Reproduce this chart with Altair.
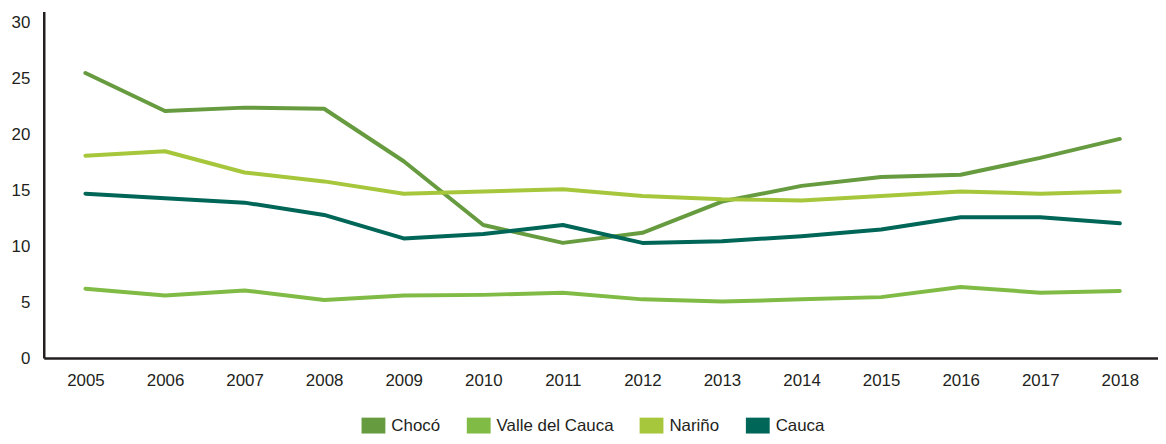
import altair as alt
import pandas as pd

years = list(range(2005, 2019))
series_names = ["Chocó", "Valle del Cauca", "Nariño", "Cauca"]
choco = [25.5, 22.1, 22.4, 22.3, 17.6, 11.9, 10.3, 11.2, 14.0, 15.4, 16.2, 16.4, 17.9, 19.6]
valle = [6.2, 5.6, 6.05, 5.2, 5.6, 5.65, 5.85, 5.25, 5.05, 5.25, 5.45, 6.35, 5.85, 6.0]
narino = [18.1, 18.5, 16.6, 15.8, 14.7, 14.9, 15.1, 14.5, 14.2, 14.1, 14.5, 14.9, 14.7, 14.9]
cauca = [14.7, 14.3, 13.9, 12.8, 10.7, 11.1, 11.9, 10.3, 10.45, 10.9, 11.5, 12.6, 12.6, 12.05]
colors = ["#679b3f", "#80bb45", "#a6c73c", "#006658"]
y_ticks = [0, 5, 10, 15, 20, 25, 30]

rows = []
for name, vals in zip(series_names, [choco, valle, narino, cauca]):
    for yr, v in zip(years, vals):
        rows.append({"year": yr, "value": v, "serie": name})
df = pd.DataFrame(rows)

FONT = "Liberation Sans"
TXT = "#231f20"

x_enc = alt.X("year:Q",
              scale=alt.Scale(domain=[2004.476, 2018.48], nice=False, zero=False),
              axis=alt.Axis(values=years, format="d", title=None, grid=False, ticks=False,
                            labelPadding=15, domainColor=TXT, domainWidth=2.5,
                            labelFont=FONT, labelFontSize=17, labelColor=TXT))
y_enc = alt.Y("value:Q",
              scale=alt.Scale(domain=[0, 31], nice=False),
              axis=alt.Axis(values=y_ticks, title=None, grid=False, ticks=False,
                            labelPadding=14, domainColor=TXT, domainWidth=2.5,
                            labelFont=FONT, labelFontSize=17, labelColor=TXT))
color_scale = alt.Scale(domain=series_names, range=colors)

lines = alt.Chart(df).mark_line(strokeWidth=4, strokeCap="round", strokeJoin="round").encode(
    x=x_enc, y=y_enc,
    color=alt.Color("serie:N", scale=color_scale, sort=series_names, legend=None),
)

legend_pts = alt.Chart(df).mark_point(filled=True, opacity=0, size=1).encode(
    x=x_enc, y=y_enc,
    color=alt.Color("serie:N", scale=color_scale, sort=series_names,
                    legend=alt.Legend(title=None, orient="none", direction="horizontal",
                                      legendX=322, legendY=407, padding=0,
                                      symbolType="M-1.2,-0.8L1.2,-0.8L1.2,0.8L-1.2,0.8Z",
                                      symbolSize=400, symbolStrokeWidth=0, symbolOpacity=1,
                                      labelFont=FONT, labelFontSize=17, labelColor=TXT,
                                      labelOffset=8, columnPadding=26)),
)

chart = alt.layer(lines, legend_pts).resolve_legend(color="independent").properties(
    width=1122, height=349,
    autosize=alt.AutoSizeParams(type="none"),
    padding={"left": 36, "top": 2, "right": 0, "bottom": 77},
).configure_view(stroke=None)

chart.save("out.html", embed_options={"renderer": "svg", "actions": False})
